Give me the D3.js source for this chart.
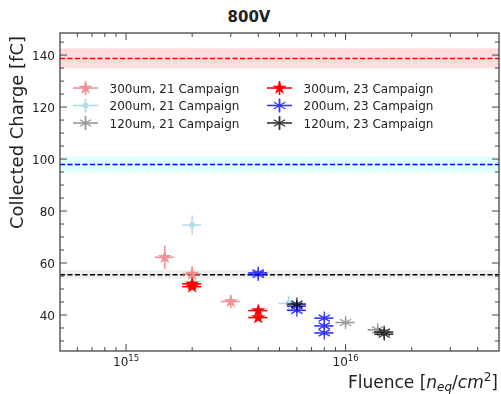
<!DOCTYPE html>
<html>
<head>
<meta charset="utf-8">
<script src="https://cdn.jsdelivr.net/npm/d3@7"></script>
<style>
  body { margin: 0; background: #fff; }
  svg text { font-family: "DejaVu Sans", sans-serif; fill: #222; }
</style>
</head>
<body>
<div id="chart"></div>
<script>
var width = 501;
var height = 394;

// 21 campaign
var fl300_21 = [1.5e15, 2e15, 3e15];
var q300_21 = [62.2, 55.8, 45.2];
var qe300_21 = [4.5, 3.0, 2.5];
var fe300_21 = [0.15e15, 0.2e15, 0.3e15];

var fl200_21 = [2e15, 5.5e15];
var q200_21 = [74.6, 44.5];
var qe200_21 = [3.8, 3.0];
var fe200_21 = [0.2e15, 0.55e15];

var fl120_21 = [1e16, 1.4e16];
var q120_21 = [37.1, 34.3];
var qe120_21 = [1.5, 1.5];
var fe120_21 = [0.1e16, 0.14e16];

// 23 campaign
var fl300_23 = [2e15, 2e15, 4e15, 4e15];
var q300_23 = [52.0, 50.9, 41.7, 39.0];
var qe300_23 = [1.0, 1.0, 1.0, 1.0];
var fe300_23 = [0.2e15, 0.2e15, 0.4e15, 0.4e15];

var fl200_23 = [4e15, 4e15, 6e15, 6e15, 8e15, 8e15, 8e15];
var q200_23 = [56.2, 55.6, 43.4, 41.8, 38.8, 35.8, 33.1];
var qe200_23 = [1.0, 1.0, 1.0, 1.0, 1.0, 1.0, 1.0];
var fe200_23 = [0.4e15, 0.4e15, 0.6e15, 0.6e15, 0.8e15, 0.8e15, 0.8e15];

var fl120_23 = [6e15, 1.5e16, 1.5e16];
var q120_23 = [44.2, 33.4, 32.6];
var qe120_23 = [1.0, 1.0, 1.0];
var fe120_23 = [0.6e15, 0.15e16, 0.15e16];

// unirradiated references (line, band low, band high)
var refQ = [138.7, 97.9, 55.5];
var refLo = [134.9, 94.8, 54.0];
var refHi = [142.6, 101.0, 57.3];

var yTicks = [40, 60, 80, 100, 120, 140];
var xTicks = [1e15, 1e16];
var xTickExp = ["15", "16"];

var series = [
    {name: "300um, 21 Campaign", x: fl300_21, y: q300_21, xe: fe300_21, ye: qe300_21, color: "#f08080", alpha: 0.85, marker: "star"},
    {name: "200um, 21 Campaign", x: fl200_21, y: q200_21, xe: fe200_21, ye: qe200_21, color: "#add8e6", alpha: 0.9, marker: "dot"},
    {name: "120um, 21 Campaign", x: fl120_21, y: q120_21, xe: fe120_21, ye: qe120_21, color: "#808080", alpha: 0.8, marker: "ast"},
    {name: "300um, 23 Campaign", x: fl300_23, y: q300_23, xe: fe300_23, ye: qe300_23, color: "#ff0000", alpha: 1, marker: "star"},
    {name: "200um, 23 Campaign", x: fl200_23, y: q200_23, xe: fe200_23, ye: qe200_23, color: "#0000ff", alpha: 0.8, marker: "ast"},
    {name: "120um, 23 Campaign", x: fl120_23, y: q120_23, xe: fe120_23, ye: qe120_23, color: "#000000", alpha: 0.8, marker: "ast"}
];
var refColors = ["#ff0000", "#0000ff", "#000000"];
var refFills = ["#ffdcdc", "#e0ffff", "#efefef"];

var pLeft = 60, pRight = 499, pTop = 33, pBottom = 351;

var x = d3.scaleLog().domain([5e14, 5e16]).range([pLeft, pRight]);
var y = d3.scaleLinear().domain([26.15, 148.5]).range([pBottom, pTop]);

var svg = d3.select("#chart").append("svg")
    .attr("width", width)
    .attr("height", height);

svg.append("defs").append("clipPath").attr("id", "clip")
    .append("rect")
    .attr("x", pLeft).attr("y", pTop)
    .attr("width", pRight - pLeft).attr("height", pBottom - pTop);

var plot = svg.append("g").attr("clip-path", "url(#clip)");

// reference bands + dashed lines
refQ.forEach(function(q, i) {
    plot.append("rect")
        .attr("x", pLeft)
        .attr("width", pRight - pLeft)
        .attr("y", y(refHi[i]))
        .attr("height", y(refLo[i]) - y(refHi[i]))
        .attr("fill", refFills[i]);
});
refQ.forEach(function(q, i) {
    plot.append("line")
        .attr("x1", pLeft).attr("x2", pRight)
        .attr("y1", y(q)).attr("y2", y(q))
        .attr("stroke", refColors[i])
        .attr("stroke-width", 1.4)
        .attr("stroke-dasharray", "5,2.5");
});

function markerPath(type) {
    if (type == "star") return d3.symbol().type(d3.symbolStar).size(62)();
    if (type == "dot") return d3.symbol().type(d3.symbolCircle).size(28)();
    // six spoke asterisk
    var r = 6.5, p = "";
    [90, 30, -30].forEach(function(a) {
        var dx = r * Math.cos(a * Math.PI / 180), dy = r * Math.sin(a * Math.PI / 180);
        p += "M" + (-dx) + "," + (-dy) + "L" + dx + "," + dy;
    });
    return p;
}

function drawMarker(g, s) {
    if (s.marker == "ast") {
        g.append("path").attr("d", markerPath("ast"))
            .attr("stroke", s.color).attr("stroke-width", 1.3).attr("fill", "none");
        g.append("circle").attr("r", 1.6).attr("fill", s.color);
    } else {
        g.append("path").attr("d", markerPath(s.marker)).attr("fill", s.color);
    }
}

// data points with error bars
series.forEach(function(s) {
    var g = plot.append("g").attr("opacity", s.alpha);
    s.x.forEach(function(xv, i) {
        var pt = g.append("g");
        pt.append("line")
            .attr("x1", x(xv - s.xe[i])).attr("x2", x(xv + s.xe[i]))
            .attr("y1", y(s.y[i])).attr("y2", y(s.y[i]))
            .attr("stroke", s.color).attr("stroke-width", 1.6);
        pt.append("line")
            .attr("x1", x(xv)).attr("x2", x(xv))
            .attr("y1", y(s.y[i] - s.ye[i])).attr("y2", y(s.y[i] + s.ye[i]))
            .attr("stroke", s.color).attr("stroke-width", 1.6);
        var m = pt.append("g").attr("transform", "translate(" + x(xv) + "," + y(s.y[i]) + ")");
        drawMarker(m, s);
    });
});

// axes, ticks point inward on all four sides
var xMinor = [];
[1e14, 1e15, 1e16].forEach(function(d) {
    for (var k = 2; k <= 9; k++) {
        var v = k * d;
        if (v > 5e14 && v < 5e16) xMinor.push(v);
    }
});
var yMinor = d3.range(30, 148, 5).filter(function(v) { return v % 20 != 0; });

var axisColor = "#444";
svg.append("rect")
    .attr("x", pLeft).attr("y", pTop)
    .attr("width", pRight - pLeft).attr("height", pBottom - pTop)
    .attr("fill", "none").attr("stroke", axisColor).attr("stroke-width", 1.3);

function xTicksAt(vals, len) {
    vals.forEach(function(v) {
        svg.append("line").attr("x1", x(v)).attr("x2", x(v))
            .attr("y1", pBottom).attr("y2", pBottom - len)
            .attr("stroke", axisColor).attr("stroke-width", 1);
        svg.append("line").attr("x1", x(v)).attr("x2", x(v))
            .attr("y1", pTop).attr("y2", pTop + len)
            .attr("stroke", axisColor).attr("stroke-width", 1);
    });
}
function yTicksAt(vals, len) {
    vals.forEach(function(v) {
        svg.append("line").attr("x1", pLeft).attr("x2", pLeft + len)
            .attr("y1", y(v)).attr("y2", y(v))
            .attr("stroke", axisColor).attr("stroke-width", 1);
        svg.append("line").attr("x1", pRight).attr("x2", pRight - len)
            .attr("y1", y(v)).attr("y2", y(v))
            .attr("stroke", axisColor).attr("stroke-width", 1);
    });
}
xTicksAt(xTicks, 7);
xTicksAt(xMinor, 4);
yTicksAt(yTicks, 7);
yTicksAt(yMinor, 4);

// tick labels
yTicks.forEach(function(v) {
    svg.append("text")
        .attr("x", pLeft - 5)
        .attr("y", y(v) + 4.5)
        .attr("text-anchor", "end")
        .attr("font-size", 12)
        .text(v);
});
xTicks.forEach(function(v, i) {
    var t = svg.append("text")
        .attr("x", x(v))
        .attr("y", 366)
        .attr("text-anchor", "middle")
        .attr("font-size", 12);
    t.append("tspan").text("10");
    t.append("tspan").attr("dy", -5).attr("font-size", 8.5).text(xTickExp[i]);
});

// axis titles
var xl = svg.append("text")
    .attr("x", 498)
    .attr("y", 388)
    .attr("text-anchor", "end")
    .attr("font-size", 17);
xl.append("tspan").text("Fluence [");
xl.append("tspan").attr("font-style", "italic").text("n");
xl.append("tspan").attr("font-style", "italic").attr("font-size", 12).attr("dy", 3).text("eq");
xl.append("tspan").attr("dy", -3).text("/");
xl.append("tspan").attr("font-style", "italic").text("cm");
xl.append("tspan").attr("font-size", 12).attr("dy", -7).text("2");
xl.append("tspan").attr("dy", 7).text("]");

svg.append("text")
    .attr("transform", "translate(23," + 132.5 + ") rotate(-90)")
    .attr("text-anchor", "middle")
    .attr("font-size", 18)
    .text("Collected Charge [fC]");

svg.append("text")
    .attr("x", 249)
    .attr("y", 22)
    .attr("text-anchor", "middle")
    .attr("font-size", 15)
    .attr("font-weight", "bold")
    .text("800V");

// legend, two columns, no frame
var legX = [85.5, 279.5];
var legY = [88, 105.5, 123];
series.forEach(function(s, i) {
    var col = Math.floor(i / 3), row = i % 3;
    var g = svg.append("g")
        .attr("transform", "translate(" + legX[col] + "," + legY[row] + ")");
    var h = g.append("g").attr("opacity", s.alpha);
    h.append("line").attr("x1", -12.5).attr("x2", 12.5)
        .attr("stroke", s.color).attr("stroke-width", 1.6);
    h.append("line").attr("y1", -7).attr("y2", 7)
        .attr("stroke", s.color).attr("stroke-width", 1.6);
    drawMarker(h, s);
    g.append("text")
        .attr("x", 24)
        .attr("y", 4.5)
        .attr("font-size", 12)
        .text(s.name);
});
</script>
</body>
</html>
